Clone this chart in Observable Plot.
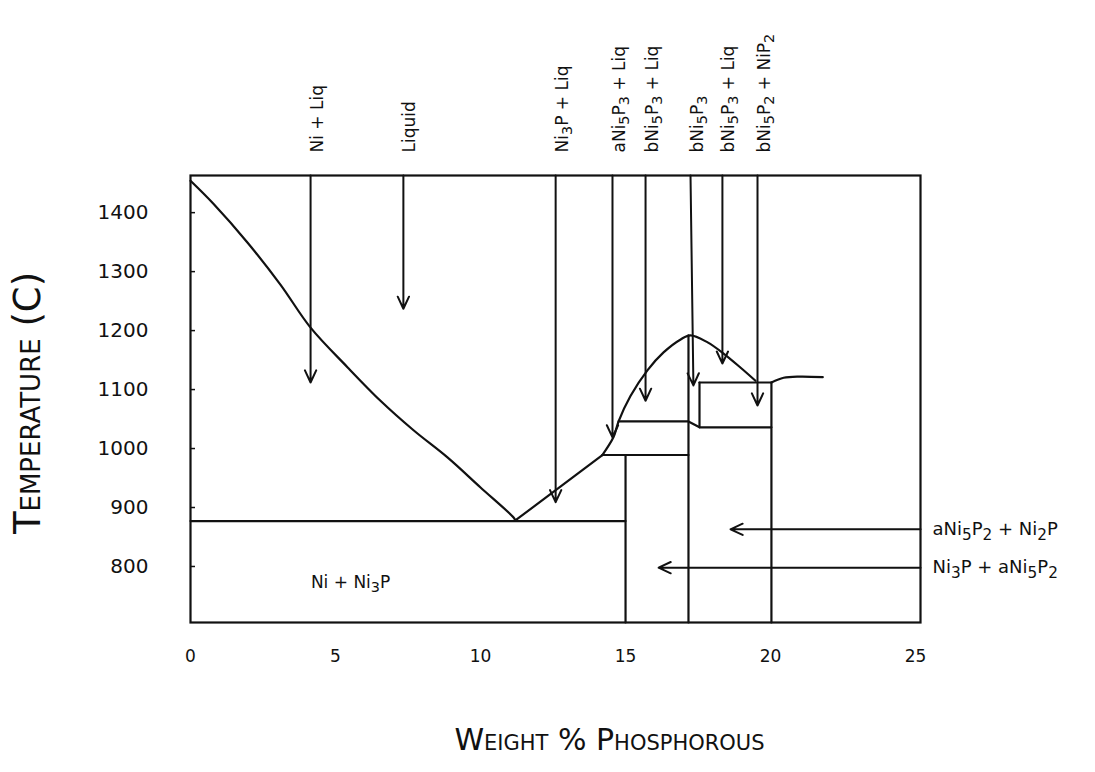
<!DOCTYPE html>
<html>
<head>
<meta charset="utf-8">
<script src="https://cdn.jsdelivr.net/npm/d3@7"></script>
<script src="https://cdn.jsdelivr.net/npm/@observablehq/plot@0.6"></script>
<style>
  body { margin: 0; background: #fff; }
  #chart svg { font-family: "DejaVu Sans", sans-serif; }
</style>
</head>
<body>
<div id="chart"></div>
<script>
// ---- axes ----
const xDomain = [0, 25.17];
const yDomain = [705, 1463];
const xTicks = [0, 5, 10, 15, 20, 25];
const yTicks = [800, 900, 1000, 1100, 1200, 1300, 1400];

// ---- curved phase boundaries (weight % P, temperature C) ----
const liquidusNi = [[0,1454],[0.79,1415],[1.97,1349],[3.10,1278],[4.14,1205],[5.41,1138],[6.55,1081],[7.69,1031],[8.86,985],[10.0,934],[11.14,883],[11.2,878]];
const liquidusNi5P2 = [[14.2,989],[14.59,1020],[14.76,1046],[15.17,1089],[15.76,1133],[16.31,1163],[16.9,1185],[17.24,1192],[17.83,1180],[18.38,1161],[18.97,1137],[19.48,1115]];
const liquidusExt = [[20.03,1112],[20.45,1120],[21.0,1122],[21.8,1121]];
const curved = [liquidusNi, liquidusNi5P2, liquidusExt];

// ---- straight phase boundaries ----
const liquidusNi3P = [[11.2,878],[14.2,989]];
const eutecticLine = [[0,877],[15,877]];
const ni3pLine = [[15,989],[15,705]];
const peritecticLow = [[14.2,989],[17.17,989]];
const peritecticMid = [[14.76,1046],[17.17,1046],[17.55,1036],[20.03,1036]];
const ni5p2Line = [[17.17,1192],[17.17,705]];
const boxLeft = [[17.55,1112],[17.55,1036]];
const boxTop = [[17.55,1112],[20.03,1112]];
const ni12p5Line = [[20.03,1112],[20.03,705]];
const straight = [liquidusNi3P, eutecticLine, ni3pLine, peritecticLow, peritecticMid, ni5p2Line, boxLeft, boxTop, ni12p5Line];

// ---- top labels with downward arrows ----
const topLabels = ["Ni + Liq", "Liquid", "Ni₃P + Liq", "aNi₅P₃ + Liq", "bNi₅P₃ + Liq", "bNi₅P₃", "bNi₅P₃ + Liq", "bNi₅P₂ + NiP₂"];
const topX = [4.14, 7.34, 12.59, 14.55, 15.69, 17.24, 18.34, 19.55];
const topTipX = [4.14, 7.34, 12.59, 14.55, 15.69, 17.34, 18.34, 19.55];
const topTipT = [1112, 1237, 909, 1019, 1081, 1107, 1144, 1073];

// ---- right labels with leftward arrows ----
const rightLabels = ["aNi₅P₂ + Ni₂P", "Ni₃P + aNi₅P₂"];
const rightT = [863, 798];
const rightTipX = [18.62, 16.14];

// ---- region label ----
const regionLabels = ["Ni + Ni₃P"];
const regionX = [5.52];
const regionT = [773];

const toRows = (list) => list.flatMap((pts, i) => pts.map(([x, t]) => ({seg: i, x, t})));
const curvedRows = toRows(curved);
const straightRows = toRows(straight);
const topRows = topLabels.map((label, i) => ({label, x: topX[i], x2: topTipX[i], t2: topTipT[i]}));
const rightRows = rightLabels.map((label, i) => ({label, t: rightT[i], x2: rightTipX[i]}));
const regionRows = regionLabels.map((label, i) => ({label, x: regionX[i], t: regionT[i]}));

const ink = "#111";
const chart = Plot.plot({
  width: 1095,
  height: 772,
  marginLeft: 190,
  marginRight: 175,
  marginTop: 175,
  marginBottom: 150,
  style: {fontFamily: "DejaVu Sans, sans-serif", background: "#fff", color: ink},
  x: {domain: xDomain},
  y: {domain: yDomain},
  marks: [
    Plot.frame({stroke: ink, strokeWidth: 2.2}),
    Plot.axisX({ticks: xTicks, tickSize: 0, tickPadding: 27, fontSize: 17, tickFormat: d => String(d), label: null}),
    Plot.axisY({ticks: yTicks, tickSize: 0, tickPadding: 42, fontSize: 20, tickFormat: d => String(d), label: null}),
    Plot.tickY(yTicks, {y: d => d, insetRight: 725, stroke: ink, strokeWidth: 1.5}),
    Plot.line(curvedRows, {x: "x", y: "t", z: "seg", stroke: ink, strokeWidth: 2.2, curve: "catmull-rom"}),
    Plot.line(straightRows, {x: "x", y: "t", z: "seg", stroke: ink, strokeWidth: 2.2, curve: "linear"}),
    Plot.arrow(topRows, {x1: "x", y1: () => yDomain[1], x2: "x2", y2: "t2", stroke: ink, strokeWidth: 2, headLength: 10, headAngle: 50}),
    Plot.arrow(rightRows, {x1: () => xDomain[1], y1: "t", x2: "x2", y2: "t", stroke: ink, strokeWidth: 2, headLength: 10, headAngle: 50}),
    Plot.text(topRows, {x: "x", text: "label", frameAnchor: "top", dy: -23, rotate: -90, textAnchor: "start", fontSize: 17, fill: ink}),
    Plot.text(rightRows, {x: () => xDomain[1], y: "t", text: "label", dx: 12, textAnchor: "start", fontSize: 18, fill: ink}),
    Plot.text(regionRows, {x: "x", y: "t", text: "label", fontSize: 17, fill: ink}),
    Plot.text(["Temperature (C)"], {frameAnchor: "left", dx: -162, dy: 4, rotate: -90, textAnchor: "middle", lineAnchor: "middle", fontSize: 37, fontVariant: "small-caps", fill: ink}),
    Plot.text(["Weight % Phosphorous"], {frameAnchor: "bottom", dx: 54, dy: 118, lineAnchor: "middle", fontSize: 30, fontVariant: "small-caps", fill: ink})
  ]
});

// render Unicode subscript digits as lowered, full-glyph tspans (text stays real text)
const subMap = {"₀":"0","₁":"1","₂":"2","₃":"3","₄":"4","₅":"5","₆":"6","₇":"7","₈":"8","₉":"9"};
chart.querySelectorAll("text").forEach(t => {
  if (t.querySelector("tspan")) return;
  const s = t.textContent;
  if (!/[₀-₉]/.test(s)) return;
  t.textContent = "";
  let buf = "";
  const flush = () => { if (buf) { t.appendChild(document.createTextNode(buf)); buf = ""; } };
  for (const ch of s) {
    if (subMap[ch]) {
      flush();
      const ts = document.createElementNS("http://www.w3.org/2000/svg", "tspan");
      ts.textContent = subMap[ch];
      ts.setAttribute("baseline-shift", "-30%");
      ts.setAttribute("font-size", "85%");
      t.appendChild(ts);
    } else buf += ch;
  }
  flush();
});
document.getElementById("chart").append(chart);
</script>
</body>
</html>
